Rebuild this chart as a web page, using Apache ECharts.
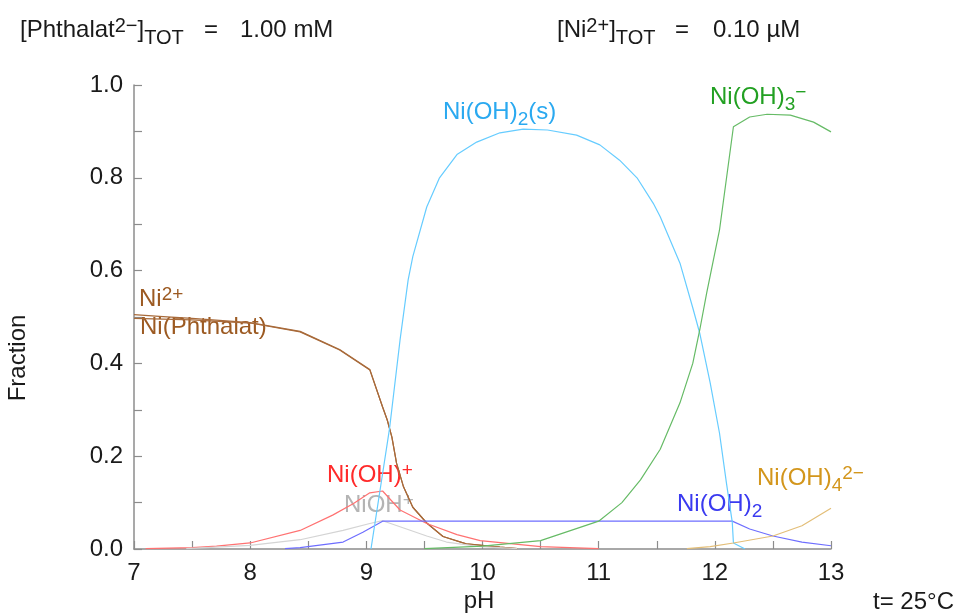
<!doctype html>
<html lang="de">
<head>
<meta charset="UTF-8">
<title>Ni Phthalat Fraktionen</title>
<style>
html, body {margin: 0; padding: 0; background: #fff;}
#chart {width: 960px; height: 615px;}
</style>
</head>
<body>
<div id="chart"></div>
<script src="https://cdn.jsdelivr.net/npm/echarts@6/dist/echarts.min.js"></script>
<script>
var FONT = '"Liberation Sans", Arial, sans-serif';

// [pH, Fraktion]
var ni2 = [[7, 0.505], [7.25, 0.501], [7.5, 0.497], [8, 0.488], [8.43, 0.469], [8.77, 0.43], [9.03, 0.387],
    [9.14, 0.306], [9.18, 0.278], [9.22, 0.241], [9.26, 0.185], [9.32, 0.134], [9.4, 0.09], [9.52, 0.056],
    [9.66, 0.027], [9.86, 0.011], [10.15, 0.004], [10.3, 0.001]];
var niPhthalat = [[7, 0.497], [7.5, 0.494], [8, 0.487], [8.43, 0.468], [8.77, 0.429], [9.03, 0.386],
    [9.14, 0.306], [9.18, 0.278], [9.22, 0.241], [9.26, 0.185], [9.32, 0.134], [9.4, 0.09], [9.52, 0.056],
    [9.66, 0.027], [9.86, 0.011], [10.15, 0.004], [10.3, 0.001]];
var niOHplus = [[7.1, 0.001], [7.5, 0.003], [7.71, 0.006], [8, 0.013], [8.43, 0.04], [8.71, 0.073], [8.89, 0.098],
    [9.03, 0.121], [9.14, 0.125], [9.29, 0.084], [9.52, 0.055], [9.78, 0.031], [9.98, 0.018], [10.5, 0.005], [11, 0.001]];
var niOHgray = [[7.45, 0.001], [8, 0.008], [8.43, 0.02], [8.8, 0.04], [9.03, 0.055], [9.14, 0.061],
    [9.29, 0.048], [9.52, 0.028], [9.69, 0.015], [9.98, 0.005], [10.3, 0.001]];
var niOH2aq = [[8.3, 0.001], [8.43, 0.003], [8.8, 0.015], [8.97, 0.036], [9.14, 0.06], [12.15, 0.06],
    [12.3, 0.043], [12.5, 0.028], [12.75, 0.015], [13, 0.007]];
var niOH2s = [[9.04, 0], [9.2, 0.26], [9.29, 0.45], [9.36, 0.58], [9.4, 0.63], [9.52, 0.737], [9.63, 0.8],
    [9.78, 0.85], [9.95, 0.877], [10.15, 0.897], [10.35, 0.905], [10.56, 0.903], [10.81, 0.892], [11.01, 0.871],
    [11.18, 0.838], [11.33, 0.8], [11.47, 0.745], [11.53, 0.716], [11.7, 0.616], [11.81, 0.52], [11.87, 0.465],
    [11.96, 0.358], [12.04, 0.25], [12.1, 0.142], [12.15, 0.058], [12.16, 0.013], [12.26, 0]];
var niOH3 = [[9.5, 0.001], [10, 0.006], [10.5, 0.018], [11, 0.06], [11.2, 0.1], [11.36, 0.149], [11.53, 0.215],
    [11.7, 0.315], [11.81, 0.4], [11.87, 0.472], [11.93, 0.552], [12.04, 0.687], [12.16, 0.91], [12.3, 0.931],
    [12.45, 0.937], [12.65, 0.935], [12.85, 0.92], [13, 0.899]];
var niOH4 = [[11.76, 0.001], [11.96, 0.005], [12.16, 0.013], [12.5, 0.028], [12.75, 0.05], [13, 0.088]];

var xTicks = [7, 8, 9, 10, 11, 12, 13];
var yTicks = [0, 0.2, 0.4, 0.6, 0.8, 1.0];

function line(name, data, color) {
    return {
        name: name, type: 'line', data: data, showSymbol: false, silent: true,
        lineStyle: {color: color, width: 1.2}, itemStyle: {color: color}
    };
}

function rich(size, subPad) {
    return {
        sup: {fontSize: size, lineHeight: size, verticalAlign: 'top', fontFamily: FONT},
        sub: {fontSize: size, lineHeight: size, verticalAlign: 'top', padding: [subPad, 0, 0, 0], fontFamily: FONT}
    };
}

function label(x, y, text, color, size, subPad) {
    return {
        type: 'text', x: x, y: y, silent: true,
        style: {
            text: text, fill: color, fontSize: 24, fontFamily: FONT, lineHeight: 27,
            align: 'left', verticalAlign: 'middle', rich: rich(size || 19, subPad || 12)
        }
    };
}

var chart = echarts.init(document.getElementById('chart'));
chart.setOption({
    animation: false,
    grid: {left: 134, right: 129, top: 85, bottom: 66},
    xAxis: {
        type: 'value', min: 7, max: 13, interval: 0.5,
        axisLine: {lineStyle: {color: '#8c8c8c', width: 1.5}},
        axisTick: {inside: true, length: 8, lineStyle: {color: '#8c8c8c', width: 1.2}},
        splitLine: {show: false},
        axisLabel: {
            margin: 12, fontSize: 24, fontFamily: FONT, color: '#1a1a1a',
            formatter: function (v) { return xTicks.indexOf(v) >= 0 ? String(v) : ''; }
        }
    },
    yAxis: {
        type: 'value', min: 0, max: 1, interval: 0.1,
        axisLine: {show: true, lineStyle: {color: '#8c8c8c', width: 1.5}},
        axisTick: {show: true, inside: true, length: 8, lineStyle: {color: '#8c8c8c', width: 1.2}},
        splitLine: {show: false},
        axisLabel: {
            margin: 11, fontSize: 24, fontFamily: FONT, color: '#1a1a1a',
            formatter: function (v) {
                var r = Math.round(v * 10) / 10;
                return yTicks.indexOf(r) >= 0 ? r.toFixed(1) : '';
            }
        }
    },
    series: [
        line('Ni2+', ni2, '#a86a3a'),
        line('Ni(Phthalat)', niPhthalat, '#a86a3a'),
        line('Ni(OH)+', niOHplus, '#ff7272'),
        line('NiOH+', niOHgray, '#d4d4d4'),
        line('Ni(OH)2', niOH2aq, '#6e6eff'),
        line('Ni(OH)2(s)', niOH2s, '#66ccff'),
        line('Ni(OH)3-', niOH3, '#66bb66'),
        line('Ni(OH)4 2-', niOH4, '#e3be78')
    ],
    graphic: [
        label(20, 30, '[Phthalat{sup|2−}]{sub|TOT}', '#1a1a1a', 20, 12),
        label(204, 30, '=', '#1a1a1a'),
        label(240, 30, '1.00 mM', '#1a1a1a'),
        label(557, 30, '[Ni{sup|2+}]{sub|TOT}', '#1a1a1a', 20, 12),
        label(675, 30, '=', '#1a1a1a'),
        label(713, 30, '0.10 µM', '#1a1a1a'),
        label(873, 602, 't= 25°C', '#1a1a1a'),
        {
            type: 'text', x: 18, y: 358, rotation: Math.PI / 2, silent: true,
            style: {text: 'Fraction', fill: '#1a1a1a', fontSize: 24, fontFamily: FONT, align: 'center', verticalAlign: 'middle'}
        },
        {
            type: 'text', x: 479, y: 601, silent: true,
            style: {text: 'pH', fill: '#1a1a1a', fontSize: 24, fontFamily: FONT, align: 'center', verticalAlign: 'middle'}
        },
        label(139, 299, 'Ni{sup|2+}', '#9c5a22'),
        label(140, 327, 'Ni(Phthalat)', '#9c5a22'),
        label(327, 475, 'Ni(OH){sup|+}', '#ff2a2a'),
        label(344, 505, 'NiOH{sup|+}', '#b4b4b4'),
        label(443, 112, 'Ni(OH){sub|2}(s)', '#2aa9f0'),
        label(710, 97, 'Ni(OH){sub|3}{sup|−}', '#22a022'),
        label(677, 504, 'Ni(OH){sub|2}', '#3a3af0'),
        label(757, 478, 'Ni(OH){sub|4}{sup|2−}', '#d3961c')
    ]
});
</script>
</body>
</html>
